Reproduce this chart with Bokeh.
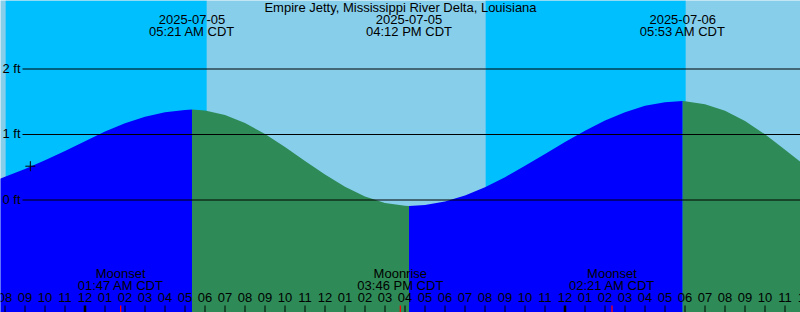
import pandas as pd
from bokeh.plotting import figure
from bokeh.models import Range1d
from bokeh.core.properties import value
from bokeh.embed import file_html
from bokeh.resources import INLINE

# ---------------- data ----------------
title = "Empire Jetty, Mississippi River Delta, Louisiana"

tide_start = "2025-07-04 19:00"
tide_end = "2025-07-06 12:00"
tide_ft = [0.24, 0.355, 0.475, 0.605, 0.747, 0.897, 1.045, 1.172, 1.272, 1.340,
           1.374, 1.367, 1.298, 1.174, 1.007, 0.809, 0.597, 0.39, 0.203, 0.054,
           -0.046, -0.089, -0.077, -0.023, 0.07, 0.196, 0.349, 0.521, 0.703, 0.885,
           1.058, 1.213, 1.341, 1.438, 1.494, 1.508, 1.463, 1.363, 1.208, 1.003,
           0.768, 0.528]

extreme_times = ["2025-07-05 05:21", "2025-07-05 16:12", "2025-07-06 05:53"]
extreme_ft = [1.38, -0.09, 1.51]
extreme_dates = ["2025-07-05", "2025-07-05", "2025-07-06"]
extreme_labels = ["05:21 AM CDT", "04:12 PM CDT", "05:53 AM CDT"]

moon_times = ["2025-07-05 01:47", "2025-07-05 15:46", "2025-07-06 02:21"]
moon_events = ["Moonset", "Moonrise", "Moonset"]
moon_labels = ["01:47 AM CDT", "03:46 PM CDT", "02:21 AM CDT"]

night_start = ["2025-07-04 20:02", "2025-07-05 20:02"]
night_end = ["2025-07-05 06:05", "2025-07-06 06:02"]

now_time = "2025-07-04 21:16"
now_ft = 0.516

y_ticks = [0, 1, 2]
y_tick_labels = ["0 ft", "1 ft", "2 ft"]

hour_tick_start = "2025-07-04 20:00"
hour_tick_end = "2025-07-06 12:00"

# ---------------- layout ----------------
W, H = 800, 312
PX_PER_HOUR = 20.0
PX_PER_FT = 65.5
T0 = pd.Timestamp("2025-07-05 00:00")
MIDNIGHT_PX = 84.5
ZERO_PX = 199.5
TXT_SHIFT = 5.0  # baseline correction for svg text

x_start = -MIDNIGHT_PX / PX_PER_HOUR
x_end = x_start + W / PX_PER_HOUR
y_top = ZERO_PX / PX_PER_FT
y_bot = y_top - H / PX_PER_FT


def hrs(t):
    return (pd.Timestamp(t) - T0).total_seconds() / 3600.0


def xpx(px):
    return x_start + px / PX_PER_HOUR


def ypx(px):
    return y_top - (px - TXT_SHIFT) / PX_PER_FT


def ypx_line(px):
    return y_top - px / PX_PER_FT


FONT = value("Liberation Sans")
FS = "13px"
TXT = dict(text_font=FONT, text_font_size=FS, text_baseline="alphabetic", text_color="black")

p = figure(width=W, height=H, x_range=Range1d(x_start, x_end),
           y_range=Range1d(y_bot, y_top), output_backend="svg",
           toolbar_location=None, min_border=0,
           x_axis_location=None, y_axis_location=None)
p.grid.visible = False
p.outline_line_color = None
p.background_fill_color = "#87CEEB"
p.border_fill_color = "#87CEEB"

# night bands
p.quad(left=[hrs(t) for t in night_start], right=[hrs(t) for t in night_end],
       bottom=y_bot, top=y_top, color="#00BFFF", line_color=None)

# tide fill: rising = blue, falling = sea green
times = [hrs(t) for t in pd.date_range(tide_start, tide_end, freq="h")]
pts = sorted(list(zip(times, tide_ft)) + [(hrs(t), v) for t, v in zip(extreme_times, extreme_ft)])
bounds = [times[0]] + [hrs(t) for t in extreme_times] + [times[-1]]
first_rising = extreme_ft[0] > extreme_ft[1]
for i in range(len(bounds) - 1):
    a, b = bounds[i], bounds[i + 1]
    seg = [(t, v) for t, v in pts if a <= t <= b]
    rising = (i % 2 == 0) == first_rising
    col = "#0000FF" if rising else "#2E8B57"
    p.varea(x=[s[0] for s in seg], y1=y_bot, y2=[s[1] for s in seg], fill_color=col)

# height grid lines and labels
p.segment(x0=xpx(22), x1=x_end, y0=y_ticks, y1=y_ticks, line_color="black", line_width=1)
p.text(x=[xpx(2)] * len(y_ticks), y=[v - (4.4 - TXT_SHIFT) / PX_PER_FT for v in y_ticks],
       text=y_tick_labels, text_align="left", **TXT)

# hour ticks
hours = pd.date_range(hour_tick_start, hour_tick_end, freq="h")
hx = [hrs(t) for t in hours]
hlab = [t.strftime("%I") for t in hours]
normal = [x for x, t in zip(hx, hours) if t.hour != 0]
midn = [x for x, t in zip(hx, hours) if t.hour == 0]
p.segment(x0=normal, x1=normal, y0=y_bot, y1=ypx_line(305), line_color="black", line_width=1)
p.segment(x0=midn, x1=midn, y0=y_bot, y1=ypx_line(305), line_color="black", line_width=2.5)
p.text(x=hx, y=[ypx(302.3)] * len(hx), text=hlab, text_align="center", **TXT)

# moon events
mx = [hrs(t) for t in moon_times]
p.segment(x0=mx, x1=mx, y0=y_bot, y1=ypx_line(305), line_color="red", line_width=1.3)
p.text(x=mx, y=[ypx(278.3)] * 3, text=moon_events, text_align="center", **TXT)
p.text(x=mx, y=[ypx(289.5)] * 3, text=moon_labels, text_align="center", **TXT)

# tide extreme labels
ex = [hrs(t) for t in extreme_times]
p.text(x=ex, y=[ypx(24.3)] * 3, text=extreme_dates, text_align="center", **TXT)
p.text(x=ex, y=[ypx(36.3)] * 3, text=extreme_labels, text_align="center", **TXT)

# title
p.text(x=[(x_start + x_end) / 2], y=[ypx(12.3)], text=[title], text_align="center", **TXT)

# current-time mark
p.scatter(x=[hrs(now_time)], y=[now_ft], marker="cross", size=10, line_color="black",
          line_width=1)

open("out.html", "w").write(file_html(p, INLINE))
